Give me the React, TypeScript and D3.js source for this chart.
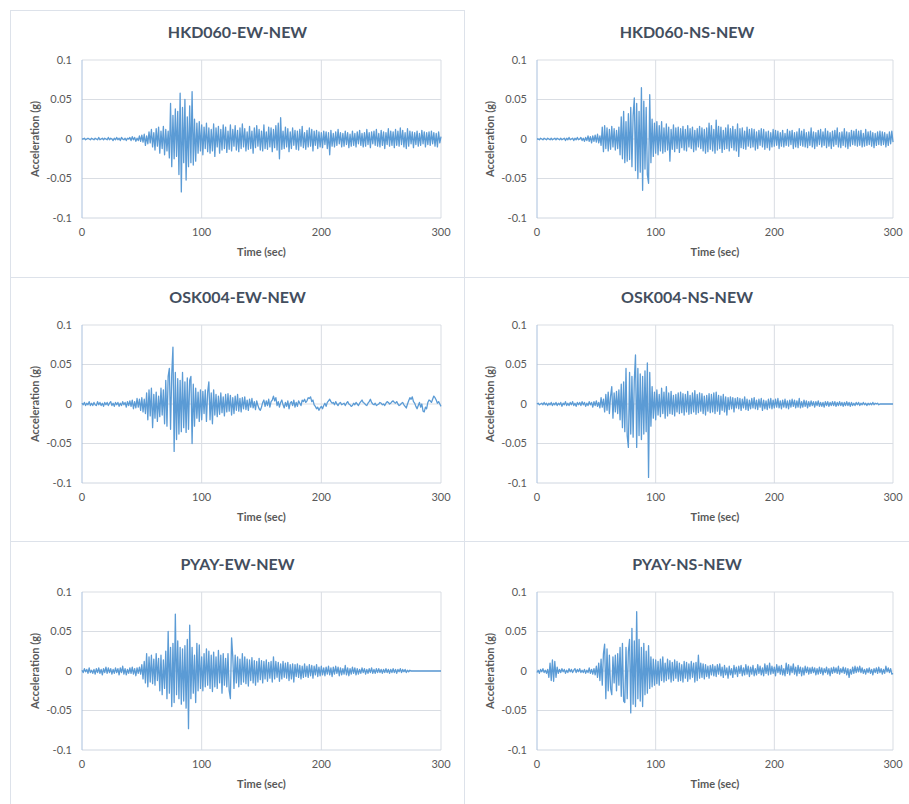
import React from "react";
import * as d3 from "d3";

// ---------- data (acceleration in milli-g, one sample per second, t = 0..300 s) ----------
const TITLES = ["HKD060-EW-NEW", "HKD060-NS-NEW", "OSK004-EW-NEW", "OSK004-NS-NEW", "PYAY-EW-NEW", "PYAY-NS-NEW"];
const X_TICKS = [0, 100, 200, 300];
const Y_TICKS = [0.1, 0.05, 0, -0.05, -0.1];
const Y_TICK_LABELS = ["0.1", "0.05", "0", "-0.05", "-0.1"];
const X_LABEL = "Time (sec)";
const Y_LABEL = "Acceleration (g)";
const DT = 1;

const hkd060EW = [
  0,0,1,-1,0,1,0,-1,1,0, -1,1,0,-1,2,-1,0,1,-1,1, 0,-1,2,-1,1,0,-2,1,-1,2, -1,1,-2,2,0,-1,1,-2,1,0,
  2,-2,3,-1,2,-3,1,-2,4,-3, 5,-4,6,-8,4,-6,9,-5,12,-10, 8,-14,13,-9,15,-18,10,-12,16,-20, 12,-15,10,-24,45,-35,30,-25,38,-22,
  35,-45,58,-67,40,-30,50,-52,28,-35, 42,-30,60,-33,25,-28,20,-18,22,-15, 18,-20,15,-12,20,-16,14,-18,12,-15, 19,-22,14,-10,16,-18,12,-14,18,-12,
  15,-17,10,-13,18,-15,12,-9,17,-14, 11,-16,14,-12,19,-10,13,-15,9,-13, 16,-12,10,-18,14,-11,17,-9,12,-14, 10,-15,18,-12,9,-13,15,-10,14,-16,
  12,-11,17,-14,20,-25,27,-13,10,-12, 15,-10,13,-16,9,-12,14,-8,11,-13, 10,-14,12,-9,16,-11,8,-13,11,-10, 14,-9,12,-15,10,-8,11,-12,9,-10,
  8,-11,10,-7,9,-12,8,-20,11,-9, 7,-10,9,-8,12,-6,8,-10,7,-9, 10,-7,8,-11,6,-9,10,-8,7,-10, 9,-6,11,-8,7,-10,8,-9,12,-7,
  8,-11,9,-6,10,-8,12,-9,7,-10, 11,-8,9,-12,8,-7,13,-9,10,-8, 9,-11,12,-8,10,-9,14,-7,11,-10, 8,-12,13,-9,10,-6,9,-11,8,-7,
  10,-9,7,-8,11,-6,9,-10,8,-7, 9,-8,10,-6,8,-9,7,-10,9,-5, 3,
];

const hkd060NS = [
  0,0,-1,1,0,-1,1,0,-1,1, 0,-1,1,-1,0,1,-1,1,0,-1, 1,-1,0,1,-2,1,-1,2,-1,0, 1,-2,1,-1,2,-1,0,2,-2,1,
  -3,2,-2,4,-3,3,-5,4,-3,5, -4,6,-5,4,-8,15,-16,17,-12,14, -15,12,-13,16,-10,13,-14,11,-12,15, -20,28,-25,35,-30,22,-28,32,-26,40,
  -35,30,52,-40,45,-50,35,-42,65,-65, 48,-38,40,-45,-56,56,-30,25,-22,20, -18,22,-20,17,-15,22,-18,14,-16,19, -14,15,-28,12,-13,18,-16,14,-12,15,
  -17,13,-11,16,-14,12,-15,17,-10,13, -12,15,-16,11,-14,13,-10,16,-12,14, -15,12,-18,14,-16,20,-13,17,-15,12, -18,24,-14,16,-12,15,-17,11,-13,14,
  -12,18,-15,13,-11,16,-14,12,-15,19, -22,13,-11,14,-12,10,-13,15,-9,12, -11,13,-10,12,-14,9,-12,11,-8,13, -10,12,-13,9,-11,10,-14,8,-10,12,
  -9,11,-8,10,-12,8,-9,11,-10,7, -8,12,-9,10,-7,11,-12,8,-10,9, -11,13,-8,10,-9,12,-10,8,-11,9, -8,14,-10,9,-12,8,-9,11,-7,12,
  -10,9,-8,13,-11,10,-9,8,-12,10, -9,11,-7,14,-10,8,-11,9,-8,13, -10,9,-12,8,-9,11,-7,10,-8,12, -9,10,-8,11,-10,7,-9,12,-8,9,
  -7,10,-9,8,-11,7,-8,9,-7,10, -8,9,-7,8,-10,6,-8,9,-6,10, -4,
];

const osk004EW = [
  1,-1,2,-2,1,-1,3,-2,1,-2, 2,-1,-2,3,-1,2,-2,1,-3,2, -1,2,-2,1,3,-2,1,-3,2,-1, 2,-3,1,-2,3,-1,2,-4,3,-2,
  4,-3,5,-6,3,-5,7,-4,6,-8, 8,-10,6,-12,14,-20,18,-15,20,-30, 12,-18,15,-22,10,-16,20,-14,18,-25, 30,-28,35,45,-32,38,72,-60,40,-45,
  32,-38,30,-35,40,-30,28,-36,33,-32, 30,35,-50,25,-28,20,-18,15,-22,18, -20,16,-12,18,-22,15,28,-20,14,-25, 18,-14,12,-16,10,-13,14,-11,9,-15,
  12,-10,13,-9,11,-14,8,-12,10,-8, 12,-9,7,-10,8,-6,9,-7,5,-8, 6,-4,7,-5,3,-7,4,-2,-6,-8, -4,2,5,-3,4,-2,6,-4,3,5,
  10,4,8,-2,3,-4,2,5,-1,-5, 2,-3,4,-6,1,3,-2,5,-4,2, -3,4,1,-2,5,3,6,2,4,8, 7,9,3,5,-1,-3,-6,-4,-8,-5,
  -3,-6,-2,1,-3,2,4,6,3,1, 2,-1,3,0,-2,1,2,-1,0,1, -2,1,3,0,-1,-3,-2,1,-1,2, 0,-2,1,3,5,2,1,-1,-2,1,
  3,6,2,0,-1,1,-2,-1,0,2, 1,-1,0,-2,1,3,2,0,1,3, 4,2,1,3,0,-2,-1,1,2,-1, -3,-5,0,4,8,6,9,3,1,-3,
  -6,-2,2,-4,0,-9,-10,-4,-6,2, 5,4,2,6,10,8,5,1,3,0, -3,
];

const osk004NS = [
  0,1,-1,0,1,-1,2,-1,1,-2, 1,-1,2,-2,1,-1,2,-2,1,-1, 2,-3,1,-1,3,-2,1,-2,2,-1, 3,-2,1,-3,2,-1,2,-2,3,-1,
  2,-3,1,-2,3,-1,2,-4,3,-2, 4,-3,2,-5,8,-4,6,-10,12,-8, 15,-12,10,22,-18,14,-10,16,-12,18, -20,25,-30,28,-35,45,-40,-55,40,-38,
  35,-42,30,62,-55,45,-40,38,-45,35, -38,42,-35,52,-93,40,-28,22,-18,15, -20,18,-14,12,-16,20,-12,15,-18,22, -15,14,-12,16,-13,11,-15,12,-10,14,
  -12,15,-11,13,-14,12,-10,16,-13,11, -12,14,-10,17,-13,12,-11,14,-9,13, -12,10,-14,11,-9,13,-11,12,-10,14, -12,15,-9,11,-13,10,-8,12,-10,9,
  -14,8,-7,9,-6,8,-10,7,-5,8, -6,7,-8,6,-5,9,-7,6,-8,5, -6,7,-5,8,-6,5,-7,6,-4,7, -8,5,-6,4,-7,6,-5,7,-6,5,
  -5,6,-4,7,-5,4,-6,5,-4,6, -5,4,-6,5,-4,6,-3,5,-5,4, -4,7,-5,3,-4,5,-3,4,-5,3, -3,4,-2,3,-4,3,-2,4,-3,2,
  -3,2,-4,3,-2,3,-3,2,-2,3, -2,3,-3,2,-2,3,-2,2,-3,2, -2,3,-2,2,-3,2,-2,1,-2,2, -1,2,-2,1,-1,2,-1,1,-2,1,
  -1,1,-1,2,-1,1,0,1,-1,0, 0,0,0,0,0,0,0,0,0,0, 0,
];

const pyayEW = [
  1,-2,3,-1,2,-3,4,-2,1,-3, 2,-4,3,-2,4,-3,2,-5,3,-2, 5,-3,4,-2,3,-4,2,-3,4,-2, 3,-5,4,-2,6,-4,3,-5,2,-3,
  4,-3,5,-4,3,-6,4,-3,5,-4, 8,-10,12,-15,22,-20,18,-14,20,-16, 15,-18,22,-12,16,-25,20,-30,14,-22, 25,-35,50,-28,30,-45,35,-40,72,-30,
  38,-35,30,-42,28,-38,32,-47,40,-73, 58,-35,30,-28,20,-40,35,-25,33,-22, 18,-25,22,-20,28,-18,25,-22,20,-26, 24,-20,18,-22,26,-15,20,-28,22,-18,
  16,-20,22,-25,-35,42,18,-22,20,-15, 18,-20,15,-17,22,-14,18,-16,15,-19, 14,-12,17,-15,13,-18,12,-14,16,-11, 13,-15,12,-10,14,-13,11,-9,12,-14,
  18,-10,12,-8,11,-13,9,-10,12,-8, 10,-9,11,-12,8,-10,9,-14,8,-7, 9,-8,7,-10,6,-8,9,-7,6,-8, 8,-6,7,-9,6,-5,8,-7,5,-6,
  6,-5,4,-6,5,-4,6,-5,4,-7, 5,-4,6,-3,5,-6,4,-5,3,-4, 7,-5,4,-6,3,-4,5,-3,4,-5, 3,-4,2,-3,4,-2,3,-4,2,-3,
  3,-2,4,-3,2,-3,3,-2,3,-2, 2,-3,2,-2,3,-2,2,-3,2,-2, 3,-2,2,-3,2,-1,3,-2,2,-1, 2,-2,1,-1,1,0,0,0,0,0,
  0,0,0,0,0,0,0,0,0,0, 0,0,0,0,0,0,0,0,0,0, 0,
];

const pyayNS = [
  -2,1,-3,2,-1,3,-2,1,-3,2, -8,10,-12,14,-13,12,-8,5,-3,2, -2,3,-1,2,-3,1,-2,3,-1,2, -2,1,3,-2,2,-1,3,-2,1,-2,
  2,-3,1,-2,4,-3,2,-4,3,-5, 6,-8,10,-12,15,-18,22,34,-35,28, -25,20,-22,-30,18,-15,20,-25,22,-18, 30,-32,35,-38,-40,30,-35,25,40,-53,
  54,-42,38,-45,75,-35,40,-38,30,-45, 35,-30,25,-28,32,-22,18,-20,15,-18, 14,-16,12,-18,15,-12,18,-14,10,-12, 15,-10,13,-14,11,-12,14,-9,12,-13,
  10,-12,8,-14,12,-9,11,-13,9,-10, 12,-8,10,-14,11,-12,20,-9,10,-8, 9,-10,8,-7,6,-9,7,-5,8,-6, 6,-7,8,-4,9,-6,5,-8,7,-5,
  4,-9,6,-5,3,-8,7,-4,5,-7, 6,-3,7,-6,4,-5,8,-4,6,-7, 5,-4,7,-6,3,-5,8,-3,6,-5, 4,-6,9,-3,7,-5,10,-4,6,-3,
  5,-6,8,-2,6,-4,7,-5,3,-6, 10,-3,8,-5,6,-2,9,-4,5,-6, 7,-3,5,-6,4,-5,6,-2,5,-4, 4,-3,5,-2,4,-5,3,-4,5,-3,
  4,-5,3,-2,5,-4,3,-6,4,-3, 5,-2,4,-3,6,-4,3,-2,5,-3, 4,-5,3,-8,2,-4,5,-3,6,-2, 5,-1,6,-2,4,-3,2,-4,3,-2,
  4,-3,2,-5,3,-2,4,-3,5,-2, 3,-4,2,-3,6,-1,4,-2,3,-4, -3,
];

const SERIES = [hkd060EW, hkd060NS, osk004EW, osk004NS, pyayEW, pyayNS];

// ---------- layout ----------
const W = 909;
const H = 804;
const COL_X = [82, 537];
const COL_W = [359, 356];
const CELL_CX = [237.5, 687];
const ROW_Y = [60, 325, 592];
const PLOT_H = 158;
const FONT = "Lato, 'Open Sans', 'Liberation Sans', sans-serif";
const LINE_COLOR = "#5b9bd5";
const GRID_COLOR = "#d9dde3";
const BORDER_COLOR = "#dde2ea";

function Panel({ idx }: { idx: number }) {
  const col = idx % 2;
  const row = Math.floor(idx / 2);
  const x0 = COL_X[col];
  const w = COL_W[col];
  const y0 = ROW_Y[row];
  const data = SERIES[idx];
  const xs = d3.scaleLinear().domain([0, 300]).range([x0, x0 + w]);
  const ys = d3.scaleLinear().domain([-0.1, 0.1]).range([y0 + PLOT_H, y0]);
  const line = d3
    .line<number>()
    .x((_d, i) => xs(i * DT))
    .y((d) => ys(d / 1000));
  return (
    <g>
      <text x={CELL_CX[col]} y={y0 - 22} textAnchor="middle" fontFamily={FONT} fontWeight={700} fontSize={16} fill="#434e5e">
        {TITLES[idx]}
      </text>
      {Y_TICKS.filter((t) => t > -0.1).map((t) => (
        <line key={"gy" + t} x1={xs(0)} x2={xs(300)} y1={ys(t)} y2={ys(t)} stroke={GRID_COLOR} strokeWidth={1} />
      ))}
      {X_TICKS.filter((t) => t > 0).map((t) => (
        <line key={"gx" + t} x1={xs(t)} x2={xs(t)} y1={ys(0.1)} y2={ys(-0.1)} stroke={GRID_COLOR} strokeWidth={1} />
      ))}
      <line x1={xs(0)} x2={xs(300)} y1={ys(-0.1)} y2={ys(-0.1)} stroke="#cfd6e0" strokeWidth={1} />
      <line x1={xs(0)} x2={xs(0)} y1={ys(0.1)} y2={ys(-0.1)} stroke="#a9c0dd" strokeWidth={1} />
      <path d={line(data) || ""} fill="none" stroke={LINE_COLOR} strokeWidth={1.3} strokeLinejoin="round" />
      {Y_TICKS.map((t, i) => (
        <text key={"yl" + t} x={xs(0) - 10} y={ys(t)} dy="0.35em" textAnchor="end" fontFamily={FONT} fontSize={11} fill="#595959">
          {Y_TICK_LABELS[i]}
        </text>
      ))}
      {X_TICKS.map((t) => (
        <text key={"xl" + t} x={xs(t)} y={ys(-0.1) + 14} dy="0.35em" textAnchor="middle" fontFamily={FONT} fontSize={11} fill="#595959">
          {t}
        </text>
      ))}
      <text x={(xs(0) + xs(300)) / 2} y={ys(-0.1) + 34} dy="0.35em" textAnchor="middle" fontFamily={FONT} fontWeight={700} fontSize={11} fill="#595959">
        {X_LABEL}
      </text>
      <text
        transform={`translate(${xs(0) - 47},${(ys(0.1) + ys(-0.1)) / 2}) rotate(-90)`}
        textAnchor="middle"
        dy="0.35em"
        fontFamily={FONT}
        fontWeight={700}
        fontSize={11}
        fill="#595959"
      >
        {Y_LABEL}
      </text>
    </g>
  );
}

export default function App() {
  return (
    <svg width={W} height={H} style={{ position: "absolute", left: 0, top: 0, display: "block", background: "#fff" }}>
      <rect x={0} y={0} width={W} height={H} fill="#fff" />
      <line x1={10} x2={465} y1={10.5} y2={10.5} stroke={BORDER_COLOR} />
      <line x1={10.5} x2={10.5} y1={10} y2={H} stroke={BORDER_COLOR} />
      <line x1={464.5} x2={464.5} y1={10} y2={H} stroke={BORDER_COLOR} />
      <line x1={10} x2={W} y1={277.5} y2={277.5} stroke={BORDER_COLOR} />
      <line x1={10} x2={W} y1={541.5} y2={541.5} stroke={BORDER_COLOR} />
      {TITLES.map((_t, i) => (
        <Panel key={i} idx={i} />
      ))}
    </svg>
  );
}
